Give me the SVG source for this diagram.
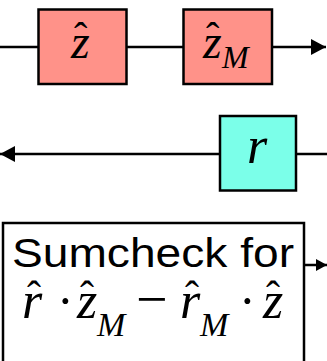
<svg xmlns="http://www.w3.org/2000/svg" width="327" height="361" viewBox="0 0 327 361">
<style>
.box{stroke:#000;stroke-width:2.5}
.red{fill:#FF9289}
.cyan{fill:#7BFFE9}
.line{stroke:#000;stroke-width:2.5;fill:none}
.m{font-family:"Liberation Serif","Times New Roman",serif;font-style:italic;fill:#000}
.up{font-family:"Liberation Serif","Times New Roman",serif;fill:#000}
.s{font-family:"Liberation Sans",Arial,sans-serif;fill:#000}
</style>
<defs>
<marker id="ah" markerUnits="userSpaceOnUse" markerWidth="16" markerHeight="16" refX="15" refY="8" orient="auto"><path d="M0,0 L15,8 L0,16 Z" fill="#000"/></marker>
<marker id="ahs" markerUnits="userSpaceOnUse" markerWidth="12" markerHeight="12" refX="11" refY="6" orient="auto"><path d="M0,0 L11,6 L0,12 Z" fill="#000"/></marker>
</defs>
<g id="connectors">
<line class="line" x1="0" y1="47" x2="38" y2="47"/>
<line class="line" x1="127" y1="47" x2="183" y2="47"/>
<line class="line" x1="272" y1="47" x2="326" y2="47" marker-end="url(#ah)"/>
<line class="line" x1="327" y1="154" x2="296" y2="154"/>
<line class="line" x1="220" y1="154" x2="0" y2="154" marker-end="url(#ah)"/>
<line class="line" x1="304" y1="265" x2="327" y2="265" marker-end="url(#ahs)"/>
</g>
<g id="node-zhat">
<rect class="box red" x="38.5" y="9.5" width="88" height="74.5"/>
<text class="m" x="71" y="58" font-size="48">z</text>
<text class="up" x="74" y="50" font-size="40">ˆ</text>
</g>
<g id="node-zhatM">
<rect class="box red" x="183.5" y="9.5" width="88.5" height="74.5"/>
<text class="m" x="203" y="58" font-size="48">z</text>
<text class="up" x="206" y="50" font-size="40">ˆ</text>
<text class="m" x="222" y="68" font-size="32">M</text>
</g>
<g id="node-r">
<rect class="box cyan" x="220" y="116" width="76" height="74.5"/>
<text class="m" x="247" y="163" font-size="52">r</text>
</g>
<g id="node-sumcheck">
<rect class="box" fill="none" x="3" y="223" width="301" height="160"/>
<text class="s" x="12" y="267" font-size="40" textLength="282" lengthAdjust="spacingAndGlyphs">Sumcheck for</text>
<text class="m" x="22" y="318" font-size="52">r</text>
<text class="up" x="27" y="310" font-size="42">ˆ</text>
<text class="up" x="57" y="318" font-size="50">·</text>
<text class="m" x="77" y="318" font-size="52">z</text>
<text class="up" x="80" y="310" font-size="42">ˆ</text>
<text class="m" x="97" y="336" font-size="34">M</text>
<text class="up" x="136" y="318" font-size="56">−</text>
<text class="m" x="180" y="318" font-size="52">r</text>
<text class="up" x="185" y="310" font-size="42">ˆ</text>
<text class="m" x="200" y="336" font-size="34">M</text>
<text class="up" x="239" y="318" font-size="50">·</text>
<text class="m" x="263" y="318" font-size="52">z</text>
<text class="up" x="266" y="310" font-size="42">ˆ</text>
</g>
</svg>
